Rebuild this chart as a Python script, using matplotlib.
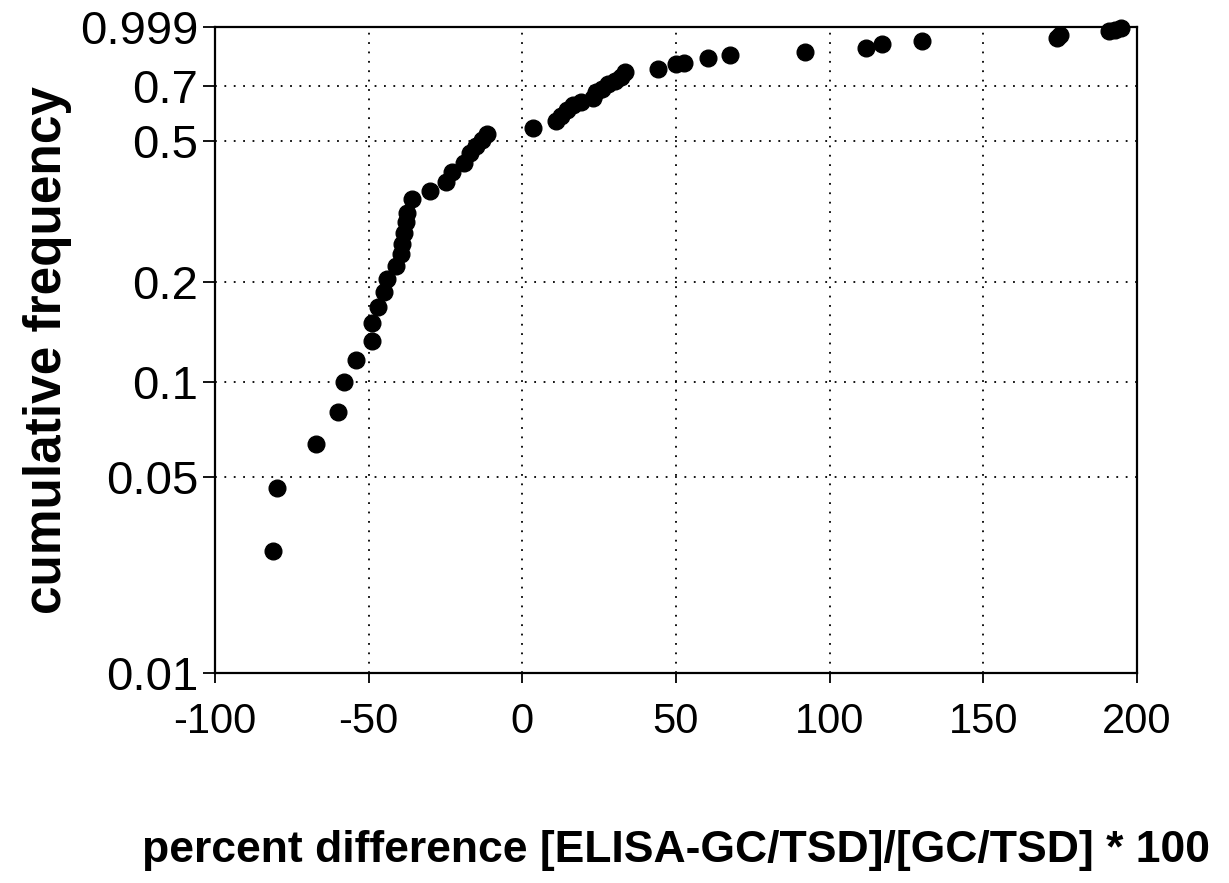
#!/usr/bin/env python3
# Cumulative frequency plot of percent difference, ELISA vs GC/TSD.
# y axis uses a stretched-log probability scale.

import numpy as np
import matplotlib
matplotlib.use('Agg')
import matplotlib.pyplot as plt

# ── data ─────────────────────────────────────────────────
pct_diff = [-81, -80, -67, -60, -58, -54, -49, -49, -47, -45,
            -44, -41, -39.5, -39, -38.5, -38, -37.5, -36, -30, -25,
            -23, -19, -17, -15, -13, -11.5, 3.5, 11, 12.5, 14.5,
            16.5, 19, 23, 24, 26, 28, 30, 32, 33.5, 44,
            50, 52.5, 60.5, 67.5, 92, 112, 117, 130, 174, 175,
            191, 193, 195]
cum_freq = [0.028, 0.046, 0.064, 0.081, 0.100, 0.117, 0.134, 0.151, 0.169, 0.187,
            0.205, 0.223, 0.242, 0.258, 0.277, 0.297, 0.316, 0.346, 0.364, 0.385,
            0.411, 0.436, 0.464, 0.484, 0.503, 0.521, 0.543, 0.565, 0.582, 0.607,
            0.625, 0.638, 0.652, 0.676, 0.689, 0.710, 0.723, 0.741, 0.765, 0.776,
            0.800, 0.807, 0.830, 0.848, 0.861, 0.885, 0.903, 0.923, 0.938, 0.953,
            0.978, 0.986, 0.994]

x_ticks = [-100, -50, 0, 50, 100, 150, 200]
y_ticks = [0.01, 0.05, 0.1, 0.2, 0.5, 0.7, 0.999]
y_tick_labels = ['0.01', '0.05', '0.1', '0.2', '0.5', '0.7', '0.999']


# probability-ish scale: u = -log10(p), y = -(12u - u^2)
def prob_fwd(p):
    p = np.clip(np.asarray(p, dtype=float), 1e-6, 1.0)
    u = -np.log10(p)
    return -(12.0 * u - u ** 2)


def prob_inv(y):
    v = np.clip(-np.asarray(y, dtype=float), 0.0, 36.0)
    u = 6.0 - np.sqrt(36.0 - v)
    return 10.0 ** (-u)


plt.rcParams['font.family'] = ['Liberation Sans', 'DejaVu Sans']

fig = plt.figure(figsize=(12.29, 8.83), dpi=100)
ax = fig.add_axes([0.175, 0.238, 0.75, 0.731])

ax.set_yscale('function', functions=(prob_fwd, prob_inv))
ax.plot(pct_diff, cum_freq, linestyle='none', marker='o', markersize=12,
        color='black', zorder=3, clip_on=False)

ax.set_xlim(-100, 200)
ax.set_ylim(0.01, 0.999)
ax.set_xticks(x_ticks)
ax.set_xticklabels([str(t) for t in x_ticks], fontsize=30)
ax.set_yticks(y_ticks)
ax.set_yticklabels(y_tick_labels, fontsize=34)
ax.yaxis.set_minor_locator(matplotlib.ticker.NullLocator())

ax.tick_params(axis='y', direction='out', length=9, width=1.3, pad=3)
ax.tick_params(axis='x', direction='out', length=7, width=1.3, pad=14)

ax.grid(True, color='black', linestyle=(0, (1, 4.2)), linewidth=1.3)
for s in ax.spines.values():
    s.set_linewidth(1.6)
    s.set_zorder(4)

ax.set_xlabel('percent difference [ELISA-GC/TSD]/[GC/TSD] * 100',
              fontsize=32, fontweight='bold')
ax.set_ylabel('cumulative frequency', fontsize=37, fontweight='bold')
ax.xaxis.set_label_coords(0.5, -0.243)
ax.yaxis.set_label_coords(-0.155, 0.5)

fig.savefig('out.png', dpi=100)
plt.close(fig)
